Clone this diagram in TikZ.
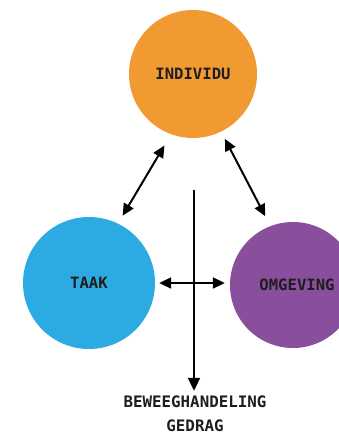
\documentclass[tikz,border=0pt]{standalone}
\usepackage{fontspec}
\setmonofont{DejaVu Sans Mono}
\usetikzlibrary{arrows.meta,calc}
\definecolor{orangeC}{HTML}{F29A32}
\definecolor{blueC}{HTML}{2BABE1}
\definecolor{purpleC}{HTML}{8A4F9C}
\definecolor{txtC}{HTML}{1E1E1E}
\begin{document}
\begin{tikzpicture}[x=1pt,y=-1pt,
  blob/.style={circle,inner sep=0pt,minimum size=#1,
    font=\ttfamily\bfseries\fontsize{15.6}{18}\selectfont,text=txtC},
  conn/.style={line width=2pt,draw=black,{Triangle[length=12pt,width=11pt]}-{Triangle[length=12pt,width=11pt]}},
  flow/.style={line width=1.8pt,draw=black,-{Triangle[length=13pt,width=12pt]}}]
\clip (0,0) rectangle (339,436);
\fill[white] (0,0) rectangle (339,436);
\node[blob=128pt,fill=orangeC] (ind) at (193,74) {INDIVIDU};
\node[blob=132pt,fill=blueC] (taak) at (89,283) {TAAK};
\node[blob=126pt,fill=purpleC] (omg) at (293,285) {\hspace{8pt}OMGEVING};
\node[font=\ttfamily\bfseries\fontsize{15.8}{24}\selectfont,text=txtC,align=center,inner sep=0pt] (out) at (195,414) {BEWEEGHANDELING\\GEDRAG};
\coordinate (top) at (194,190);
\draw[conn,shorten <=13pt,shorten >=9pt] (ind.250) -- (taak.64);
\draw[conn,shorten <=8pt,shorten >=11pt] (ind.296) -- (omg.111);
\draw[conn,shorten <=4pt,shorten >=5pt] (taak.east) -- (taak.east -| omg.west);
\draw[flow,shorten >=5pt] (top) -- (top |- out.north);
\end{tikzpicture}
\end{document}
